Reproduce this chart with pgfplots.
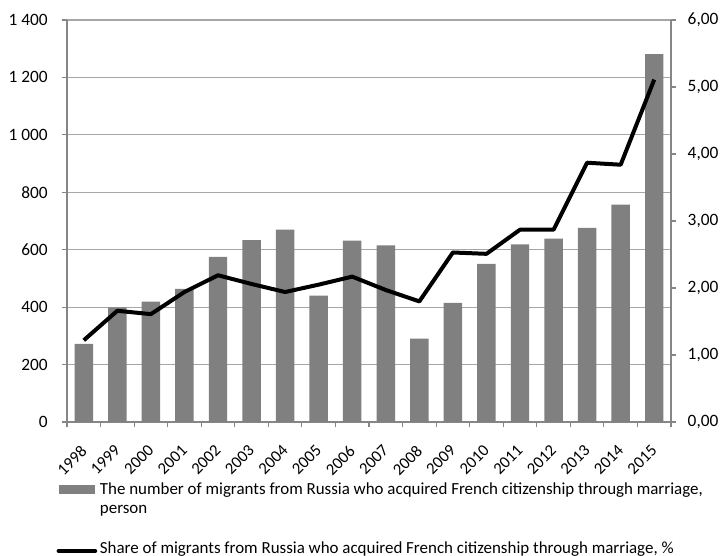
\documentclass[border=0pt]{standalone}
\usepackage{pgfplots}
\pgfplotsset{compat=1.18}
\usepackage{fontspec}
\setmainfont{Carlito}
\definecolor{barc}{RGB}{128,128,128}
\definecolor{gridc}{RGB}{166,166,166}
\definecolor{axc}{RGB}{134,134,134}
\begin{document}
\begin{tikzpicture}
\useasboundingbox (-50.25pt,-100.5pt) rectangle (490.5pt,316.5pt);
\begin{axis}[
  scale only axis, width=453pt, height=301.5pt,
  xmin=-0.5, xmax=17.5, ymin=0, ymax=1400,
  axis x line*=bottom, axis y line*=left,
  axis line style={axc, line width=0.8pt, -},
  ytick={0,200,...,1400},
  ymajorgrids, grid style={gridc, line width=0.8pt},
  xtick={0,...,17},
  xticklabels={1998,1999,2000,2001,2002,2003,2004,2005,2006,2007,2008,2009,2010,2011,2012,2013,2014,2015},
  major x tick style={draw=none},
  minor xtick={-0.5,0.5,...,17.5},
  tick align=outside, major tick length=4pt, minor tick length=4pt,
  tick style={axc, line width=0.8pt},
  minor tick style={axc, line width=0.8pt},
  x tick label style={font=\fontsize{12.5}{14}\selectfont, xshift=-3pt, yshift=-11pt, rotate=45, anchor=north east, inner sep=1pt},
  y tick label style={font=\fontsize{13}{15}\selectfont, xshift=-7pt},
  /pgf/number format/assume math mode=true,
  /pgf/number format/1000 sep={\ },
]
\addplot[ybar, bar width=0.55, fill=barc, draw=none] coordinates {
(0,272) (1,399) (2,419) (3,464) (4,575) (5,633) (6,670) (7,440) (8,632)
(9,615) (10,290) (11,415) (12,551) (13,619) (14,639) (15,676) (16,757) (17,1281)};
\end{axis}
\begin{axis}[
  scale only axis, width=453pt, height=301.5pt,
  xmin=-0.5, xmax=17.5, ymin=0, ymax=6,
  axis x line=none, axis y line*=right,
  axis line style={axc, line width=0.8pt, -},
  ytick={0,1,...,6},
  tick align=outside, major tick length=4pt,
  tick style={axc, line width=0.8pt},
  y tick label style={font=\fontsize{13}{15}\selectfont, xshift=5pt,
    /pgf/number format/.cd, fixed, fixed zerofill, precision=2, use comma},
  /pgf/number format/assume math mode=true,
  legend style={draw=none, fill=none, at={(0,0)}, anchor=north west,
    xshift=-8pt, yshift=-43.5pt, inner sep=0pt, column sep=1pt,
    cells={anchor=base west},
    nodes={inner sep=1pt},
    font=\fontsize{12.7}{14}\selectfont},
]
\addlegendimage{legend image code/.code={\fill[barc] (0pt,0.75pt) rectangle (26pt,6.75pt);}}
\addlegendentry{\begin{tabular}[t]{@{}l@{}}The number of migrants from Russia who acquired French citizenship through marriage,\\person\end{tabular}}
\addplot[black, line width=3pt, line join=round, legend image code/.code={\draw[black, line width=3pt, line cap=round] (-0.5pt,2pt) -- (27pt,2pt);}] coordinates {
(0,1.22) (1,1.66) (2,1.61) (3,1.94) (4,2.19) (5,2.06) (6,1.94) (7,2.05) (8,2.17)
(9,1.97) (10,1.80) (11,2.53) (12,2.51) (13,2.87) (14,2.87) (15,3.87) (16,3.84) (17,5.11)};
\addlegendentry{\rule{0pt}{40.75pt}Share of migrants from Russia who acquired French citizenship through marriage, \%}
\end{axis}
\end{tikzpicture}
\end{document}
